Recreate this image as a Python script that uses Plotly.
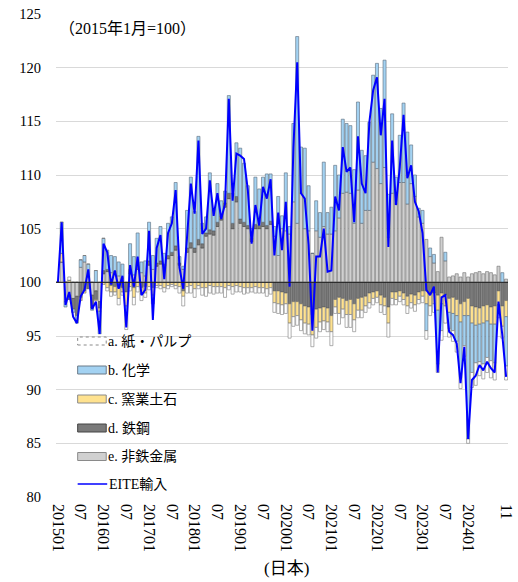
import numpy as np
import plotly.graph_objects as go

# Monthly categories 2015-01 .. 2024-11
months = [f"{y}{m:02d}" for y in range(2015, 2025) for m in range(1, 13)][:119]

# EITE import index (2015-01 = 100)
eite = [
    100.0, 105.6, 97.9, 99.1, 96.8, 96.2, 98.7, 99.3, 101.2, 97.5, 98.2, 95.2,
    103.6, 102.8, 99.8, 101.1, 99.4, 100.6, 95.8, 101.6, 99.6, 102.4, 98.8, 99.3,
    104.8, 96.5, 103.2, 104.4, 100.3, 104.6, 105.5, 108.6, 101.4, 99.4, 104.2, 109.2,
    106.4, 113.2, 104.5, 105.0, 109.5, 106.2, 108.3, 105.9, 107.3, 117.1, 107.6, 112.0,
    111.8, 111.5, 108.6, 103.6, 107.2, 105.3, 108.9, 107.8, 109.6, 102.5, 106.5, 103.0,
    107.5, 99.6, 112.5, 120.5, 108.3, 107.8, 103.5, 95.5, 102.4, 102.4, 105.0, 101.0,
    101.1, 108.0, 106.7, 112.6, 110.3, 110.7, 105.6, 113.6, 109.2, 108.3, 114.9, 117.9,
    119.1, 113.7, 117.1, 103.3, 113.2, 107.2, 110.7, 115.6, 109.7, 110.9, 107.5, 106.6,
    104.6, 99.3, 98.8, 99.6, 91.6, 98.6, 98.8, 95.4, 95.1, 94.3, 90.6, 94.0,
    85.4, 90.9, 91.3, 92.3, 91.8, 92.6, 92.0, 91.6, 98.2, 95.1, 91.2,
]

# Contributions by sector (index points)
paper_pulp = [  # a. 紙・パルプ
    0, 0, 0, 0.3, 0, 0, 0, 0, 0, 0, 0, 0,
    0, -0.3, -0.4, -0.3, -0.6, -0.3, -1.3, -0.4, -0.7, -0.5, -0.6, -0.4,
    -0.3, -0.8, -0.2, -0.3, -0.4, -0.3, -0.2, -0.3, -0.6, -0.9, -0.6, -0.7,
    -0.8, -0.3, -0.7, -0.8, -0.7, -0.7, -0.6, -0.6, -0.9, -0.4, -0.7, -0.6,
    -0.5, -0.6, -0.5, -0.4, -0.6, -0.5, -0.5, -0.7, -0.6, -0.9, -0.9, -0.9,
    -0.9, -1.4, -0.9, -0.9, -1.0, -1.0, -1.0, -1.1, -1.0, -0.9, -0.8, -0.9,
    -1.3, -0.6, -1.0, -0.8, -1.2, -1.2, -1.1, -0.7, -0.7, -0.6, -0.5, -0.6,
    -0.5, -0.7, -0.8, -1.3, -0.6, -0.5, -0.5, -0.5, -0.7, -0.5, -0.6, -0.4,
    -0.6, -0.8, -0.9, -0.8, -0.8, -0.9, -1.6, -0.8, -1.0, -1.0, -1.0, -1.0,
    -0.4, -1.4, -2.1, -1.3, -1.4, -1.4, -1.6, -1.6, -0.5, -1.1, -1.3,
]
chemicals = [  # b. 化学
    0, 2.9, -0.5, 0, -0.3, -0.7, 0.7, 0.6, 1.2, -0.2, 1.1, -2.1,
    3.0, 1.8, 1.6, 1.4, 1.3, 1.3, -0.9, 2.4, 1.7, 3.1, 1.0, 1.4,
    3.6, 1.3, 2.3, 3.2, 1.0, 3.0, 3.3, 5.9, 0.6, 0.3, 3.5, 6.1,
    3.4, 9.6, 1.9, 1.5, 5.3, 2.0, 3.6, 1.4, 1.1, 9.1, 2.8, 5.0,
    6.6, 5.5, 3.7, 0.9, 4.4, 3.4, 4.2, 4.8, 4.4, 0.9, 5.5, 1.2,
    5.4, 0.7, 7.3, 17.4, 4.3, 7.5, 4.2, 0.0, 2.8, 2.3, 6.0, 2.0,
    2.5, 6.1, 4.0, 6.9, 6.4, 6.3, 5.0, 8.2, 6.8, 5.1, 8.2, 8.1,
    9.8, 7.0, 10.0, 4.0, 7.4, 2.5, 4.4, 7.4, 6.7, 3.6, 2.0, 0.8,
    1.2, -2.5, 0.8, 0.8, -5.0, -2.5, 0.8, -1.5, -1.6, -2.4, -5.2, -2.8,
    -11.5, -4.6, -3.5, -3.5, -3.8, -3.4, -3.4, -3.6, -0.7, 0.9, -4.6,
]
ceramics = [  # c. 窯業土石
    0, 0.8, 0, 0.2, 0, 0, -0.3, -0.2, 0, 0, -0.1, -0.3,
    -0.2, -0.5, -0.6, -0.5, -1.0, -0.4, -1.3, -0.4, -0.9, -0.4, -0.6, -0.6,
    -0.4, -0.7, -0.3, -0.3, -0.5, -0.3, -0.2, -0.3, -0.4, -0.5, -0.4, -0.3,
    -0.6, -0.3, -0.5, -0.5, -0.3, -0.4, -0.4, -0.4, -0.5, -0.3, -0.4, -0.3,
    -0.4, -0.5, -0.5, -0.5, -0.4, -0.5, -0.5, -0.6, -0.5, -1.1, -1.2, -1.2,
    -1.0, -1.8, -1.4, -1.3, -1.5, -1.6, -1.6, -1.9, -1.7, -1.3, -1.3, -1.3,
    -1.5, -0.7, -1.5, -1.0, -1.3, -1.4, -1.5, -1.1, -1.2, -0.9, -0.9, -0.6,
    -0.6, -0.9, -0.8, -1.5, -0.6, -0.7, -0.5, -0.6, -0.9, -0.8, -0.9, -0.7,
    -0.5, -1.2, -1.2, -1.0, -1.4, -1.0, -1.0, -1.3, -1.5, -1.5, -1.7, -1.3,
    -1.6, -1.6, -1.7, -1.5, -1.6, -1.5, -1.6, -1.7, -1.3, -1.9, -1.5,
]
steel = [  # d. 鉄鋼
    0, 0, 0, -0.4, -1.0, -1.8, -1.4, -0.8, -0.6, -1.2, -0.8, -0.6,
    0.3, 0.2, -0.3, -0.4, -0.5, -0.5, -0.9, 0.4, -0.5, 0.3, -0.5, -0.4,
    0.4, -0.5, 0.3, 0.3, 0.2, 0.3, 0.3, 0.4, 0.2, -0.8, 0.4, 0.5,
    0.4, 0.5, 0.4, 0.3, 0.4, 0.4, 0.4, 0.4, 0.4, 0.5, 0.5, 0.5,
    0.4, 0.4, 0.3, 0.3, 0.4, 0.3, 0.4, 0.3, 0.3, -0.8, -0.8, -0.9,
    -1.0, -2.0, -1.8, -1.8, -2.0, -2.2, -2.3, -3.0, -2.5, -2.4, -2.3, -2.4,
    -3.1, -1.6, -1.4, -1.5, -1.7, -1.6, -2.0, -1.5, -1.4, -1.3, -1.0, -0.9,
    -0.8, -1.2, -1.4, -2.3, -0.9, -0.9, -0.8, -1.0, -1.3, -1.1, -1.2, -0.9,
    -0.8, -0.8, -1.0, -1.0, -1.2, -1.0, -1.2, -1.5, -1.4, -1.6, -2.0, -1.8,
    -1.5, -2.2, -2.3, -2.4, -2.2, -2.1, -2.3, -2.2, -0.8, -2.2, -1.7,
]
nonferrous = [  # e. 非鉄金属
    0, 1.9, -1.8, -1.2, -1.5, -1.3, 1.4, 1.9, 0.5, -1.2, -0.8, -1.8,
    0.8, 1.0, 0.9, 1.0, 0.6, 0.4, 0, 0.8, 0.7, 1.2, 0.9, 0.6,
    1.6, 1.2, 1.5, 1.7, 1.5, 2.2, 2.5, 3.0, 1.6, 1.2, 2.8, 3.2,
    2.8, 3.5, 3.2, 4.3, 4.5, 4.4, 5.2, 5.8, 7.0, 7.8, 5.0, 7.5,
    5.5, 5.2, 5.0, 3.8, 5.0, 5.0, 5.2, 5.0, 5.4, 4.3, 2.5, 5.0,
    4.8, 4.5, 7.5, 5.5, 8.3, 5.0, 4.8, 2.7, 4.8, 4.2, 5.2, 4.5,
    4.5, 4.8, 6.0, 8.3, 8.4, 8.3, 5.5, 8.6, 5.5, 6.7, 6.7, 11.2,
    10.6, 9.2, 10.7, 4.2, 8.3, 7.3, 9.3, 9.3, 7.3, 9.2, 8.0, 6.1,
    5.5, 4.0, 2.4, 1.8, 1.0, 4.2, 2.0, 0.5, 0.6, 0.8, 0.5, 0.9,
    0.5, 0.8, 0.9, 1.0, 0.8, 1.0, 0.9, 0.7, 1.5, 0.0, 0.3,
]

ytick_vals = [80, 85, 90, 95, 100, 105, 110, 115, 120, 125]
xtick_vals = ["201501", "201507", "201601", "201607", "201701", "201707",
              "201801", "201807", "201901", "201907", "202001", "202007",
              "202101", "202107", "202201", "202207", "202301", "202307",
              "202401", "202411"]
xtick_text = ["201501", "07", "201601", "07", "201701", "07", "201801", "07",
              "201901", "07", "202001", "07", "202101", "07", "202201", "07",
              "202301", "07", "202401", "11"]

SERIF = "Liberation Serif, Noto Sans CJK JP, serif"

# stacking order outward from the 100 baseline
series = [
    ("e. 非鉄金属", nonferrous, "#d0d0d0", "#6e6e6e"),
    ("d. 鉄鋼", steel, "#7a7a7a", "#444444"),
    ("c. 窯業土石", ceramics, "#ffe28f", "#6e6e6e"),
    ("b. 化学", chemicals, "#a3d2f2", "#5a6a78"),
    ("a. 紙・パルプ", paper_pulp, "#ffffff", "#7a7a7a"),
]

fig = go.Figure()
pos = np.zeros(len(months))
neg = np.zeros(len(months))
for name, vals, fill, edge in series:
    v = np.array(vals, dtype=float)
    base = np.where(v >= 0, 100 + pos, 100 + neg)
    pos += np.clip(v, 0, None)
    neg += np.clip(v, None, 0)
    fig.add_trace(go.Bar(
        x=months, y=v, base=base, name=name,
        marker=dict(color=fill, line=dict(color=edge, width=0.6)),
        showlegend=False,
    ))

fig.add_trace(go.Scatter(
    x=months, y=eite, mode="lines", name="EITE輸入",
    line=dict(color="#0000ff", width=2), showlegend=False,
))

# baseline at 100
fig.add_shape(type="line", xref="paper", yref="y", x0=0, x1=1, y0=100, y1=100,
              line=dict(color="#222222", width=1), layer="above")

# hand-drawn legend inside the plot area
PLOT_L, PLOT_R, PLOT_T, PLOT_B = 56, 515, 14, 497


def px_x(px):
    return (px - PLOT_L) / (PLOT_R - PLOT_L)


def px_y(py):
    return (PLOT_B - py) / (PLOT_B - PLOT_T)


legend_rows = [
    ("a. 紙・パルプ", "#ffffff", "#8a8a8a", "dot"),
    ("b. 化学", "#a3d2f2", "#6a7a88", "solid"),
    ("c. 窯業土石", "#ffe28f", "#8a8a8a", "solid"),
    ("d. 鉄鋼", "#7a7a7a", "#444444", "solid"),
    ("e. 非鉄金属", "#d0d0d0", "#8a8a8a", "solid"),
]
row_y = [341, 370, 399, 428, 456.5]
for (label, fill, edge, dash), cy in zip(legend_rows, row_y):
    fig.add_shape(type="rect", xref="paper", yref="paper",
                  x0=px_x(78), x1=px_x(107), y0=px_y(cy + 4), y1=px_y(cy - 4),
                  fillcolor=fill, line=dict(color=edge, width=1, dash=dash),
                  layer="above")
    fig.add_annotation(x=px_x(107), y=px_y(cy), xref="paper", yref="paper",
                       text=label, showarrow=False, xanchor="left", yanchor="middle",
                       font=dict(family=SERIF, size=14, color="#000000"))
fig.add_shape(type="line", xref="paper", yref="paper",
              x0=px_x(78), x1=px_x(108), y0=px_y(484), y1=px_y(484),
              line=dict(color="#0000ff", width=1.5), layer="above")
fig.add_annotation(x=px_x(108), y=px_y(484), xref="paper", yref="paper",
                   text="EITE輸入", showarrow=False, xanchor="left", yanchor="middle",
                   font=dict(family=SERIF, size=14, color="#000000"))

fig.add_annotation(x=px_x(57), y=px_y(29), xref="paper", yref="paper",
                   text="（2015年1月=100）", showarrow=False, xanchor="left",
                   yanchor="middle", font=dict(family=SERIF, size=16, color="#000000"))
fig.add_annotation(x=px_x(290), y=px_y(568), xref="paper", yref="paper",
                   text="(日本)", showarrow=False, xanchor="center",
                   yanchor="middle", font=dict(family=SERIF, size=17, color="#000000"))

fig.update_layout(
    width=518, height=582,
    margin=dict(l=PLOT_L, r=518 - PLOT_R, t=PLOT_T, b=582 - PLOT_B),
    paper_bgcolor="white", plot_bgcolor="white",
    barmode="overlay", bargap=0.2,
    font=dict(family=SERIF, size=14, color="#000000"),
    xaxis=dict(type="category", categoryorder="array", categoryarray=months,
               tickmode="array", tickvals=xtick_vals, ticktext=xtick_text,
               tickangle=90, ticks="", showgrid=False, showline=False,
               zeroline=False, tickfont=dict(family=SERIF, size=16),
               ticklabelstandoff=6,
               range=[-0.5, len(months) - 0.5]),
    yaxis=dict(range=[80, 125], tickmode="array", tickvals=ytick_vals,
               showgrid=True, gridcolor="#d9d9d9", gridwidth=1.3,
               zeroline=False, showline=False, ticks="",
               ticklabelstandoff=14, tickfont=dict(family=SERIF, size=14.5)),
)

fig.write_html("out.html")
